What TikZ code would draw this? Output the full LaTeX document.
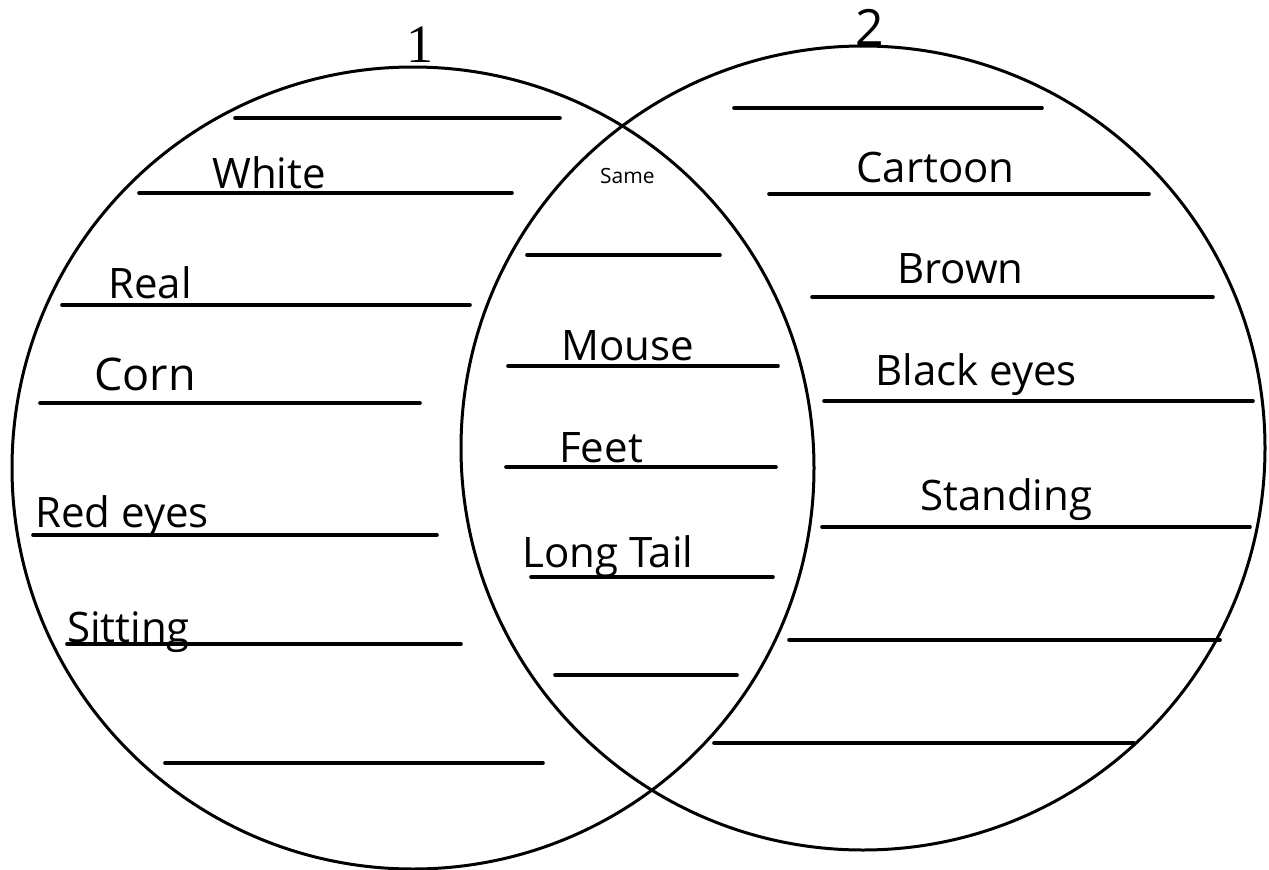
\documentclass[tikz,border=0pt]{standalone}
\usepackage{fontspec}
\setmainfont{Open Sans}
\newfontfamily\digitfont{Liberation Serif}
\begin{document}
\begin{tikzpicture}[x=1pt,y=-1pt,
  ring/.style={draw=black,line width=3pt},
  blank/.style={draw=black,line width=3.6pt,line cap=round},
  word/.style={anchor=base west,inner sep=0pt,font=\fontsize{42}{46}\selectfont},
  numlabel/.style={anchor=base,inner sep=0pt}]
\useasboundingbox (0,0) rectangle (1269,870);
\fill[white] (0,0) rectangle (1269,870);

% the two overlapping sets
\draw[ring] (413,468) circle[radius=401];
\draw[ring] (863,448) circle[radius=402];

% set headings
\node[numlabel,font=\digitfont\fontsize{54}{58}\selectfont] (n1) at (420,62) {1};
\node[numlabel,font=\fontsize{50}{54}\selectfont] (n2) at (870,45) {2};

% writing lines, set 1
\draw[blank] (235,118) -- (560,118);
\draw[blank] (139,193) -- (512,193);
\draw[blank] (62,305) -- (470,305);
\draw[blank] (40,403) -- (420,403);
\draw[blank] (33,535) -- (437,535);
\draw[blank] (67,644) -- (461,644);
\draw[blank] (165,763) -- (543,763);

% writing lines, shared part
\draw[blank] (527,255) -- (720,255);
\draw[blank] (508,366) -- (778,366);
\draw[blank] (506,467) -- (776,467);
\draw[blank] (531,577) -- (773,577);
\draw[blank] (555,675) -- (737,675);

% writing lines, set 2
\draw[blank] (734,108) -- (1042,108);
\draw[blank] (769,194) -- (1149,194);
\draw[blank] (812,297) -- (1213,297);
\draw[blank] (824,401) -- (1253,401);
\draw[blank] (822,527) -- (1250,527);
\draw[blank] (789,640) -- (1220,640);
\draw[blank] (714,743) -- (1134,743);

% entries, set 1
\node[word] (white) at (212,188) {White};
\node[word] (real) at (108,298) {Real};
\node[word,font=\fontsize{45}{49}\selectfont] (corn) at (94,390) {Corn};
\node[word] (redeyes) at (35,527) {Red eyes};
\node[word] (sitting) at (67,642) {Sitting};

% entries, shared part
\node[word,font=\fontsize{21}{24}\selectfont] (same) at (600,183) {Same};
\node[word] (mouse) at (561,360) {Mouse};
\node[word] (feet) at (559,462) {Feet};
\node[word] (longtail) at (522,567) {Long Tail};

% entries, set 2
\node[word] (cartoon) at (856,182) {Cartoon};
\node[word] (brown) at (897,283) {Brown};
\node[word] (blackeyes) at (875,385) {Black eyes};
\node[word] (standing) at (920,510) {Standing};
\end{tikzpicture}
\end{document}
